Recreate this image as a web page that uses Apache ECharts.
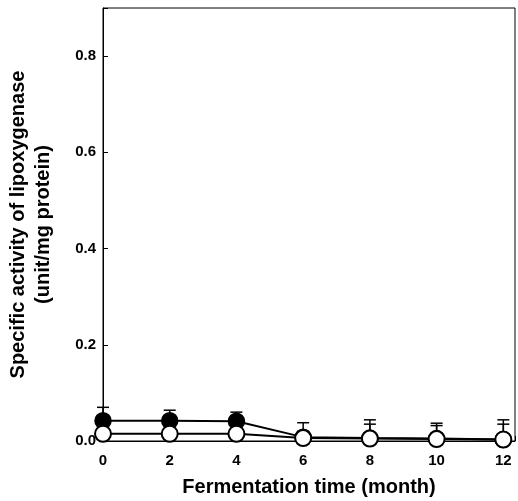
<!DOCTYPE html>
<html><head><meta charset="utf-8">
<script src="https://cdn.jsdelivr.net/npm/echarts@6/dist/echarts.min.js"></script>
<style>html,body{margin:0;padding:0;background:#fff}#c{width:518px;height:501px}</style>
</head><body><div id="c"></div>
<script>
const months = [0, 2, 4, 6, 8, 10, 12];
const filledVals = [0.042, 0.042, 0.041, 0.008, 0.006, 0.005, 0.003];
const filledErrTop = [0.070, 0.064, 0.060, 0.038, 0.035, 0.032, 0.035];
const openVals = [0.015, 0.015, 0.015, 0.006, 0.005, 0.004, 0.003];
const openErrTop = [0.020, 0.020, 0.020, 0.020, 0.044, 0.037, 0.044];
const yTicks = [0, 0.2, 0.4, 0.6, 0.8];

const font = 'Liberation Sans, Arial, sans-serif';
function errData(vals, tops){ return months.map((m,i)=>[m, vals[i], tops[i]]); }
function errRender(params, api){
  const x = api.value(0), y0 = api.value(1), y1 = api.value(2);
  const p0 = api.coord([x, y0]), p1 = api.coord([x, y1]);
  const hw = 6;
  return {type:'group', children:[
    {type:'line', shape:{x1:p0[0], y1:p0[1], x2:p1[0], y2:p1[1]}, style:{stroke:'#000', lineWidth:1.5}},
    {type:'line', shape:{x1:p1[0]-hw, y1:p1[1], x2:p1[0]+hw, y2:p1[1]}, style:{stroke:'#000', lineWidth:1.5}}
  ]};
}
const chart = echarts.init(document.getElementById('c'), null, {renderer:'canvas'});
chart.setOption({
  animation:false,
  grid:{left:103, right:3, top:8, bottom:60, containLabel:false, outerBoundsMode:'none',
    show:true, borderColor:'#000', borderWidth:1, backgroundColor:'transparent'},
  xAxis:{type:'value', min:0, max:12.35, interval:2,
    axisLine:{lineStyle:{color:'#000', width:1}}, axisTick:{inside:true, length:5, lineStyle:{color:'#000'}},
    axisLabel:{color:'#000', fontFamily:font, fontWeight:'bold', fontSize:15, margin:12,
      formatter:v=>months.includes(v)?String(v):''},
    splitLine:{show:false},
    name:'Fermentation time (month)', nameLocation:'middle', nameGap:36,
    nameTextStyle:{color:'#000', fontFamily:font, fontWeight:'bold', fontSize:20}},
  yAxis:{type:'value', min:0, max:0.9, interval:0.2,
    axisLine:{lineStyle:{color:'#000', width:1}}, axisTick:{inside:true, length:5, lineStyle:{color:'#000'}},
    axisLabel:{color:'#000', fontFamily:font, fontWeight:'bold', fontSize:15, margin:7,
      formatter:v=>yTicks.some(t=>Math.abs(t-v)<1e-9)?v.toFixed(1):''},
    splitLine:{show:false},
    name:'Specific activity of lipoxygenase\n(unit/mg protein)', nameLocation:'middle', nameGap:47,
    nameTextStyle:{color:'#000', fontFamily:font, fontWeight:'bold', fontSize:20, lineHeight:25}},
  series:[
    {type:'custom', renderItem:errRender, data:errData(filledVals, filledErrTop), encode:{x:0,y:[1,2]}, z:1},
    {type:'custom', renderItem:errRender, data:errData(openVals, openErrTop), encode:{x:0,y:[1,2]}, z:1},
    {type:'line', data:months.map((m,i)=>[m, filledVals[i]]), symbol:'circle', symbolSize:16,
      lineStyle:{color:'#000', width:2}, itemStyle:{color:'#000', borderColor:'#000', borderWidth:1.5}, z:3},
    {type:'line', data:months.map((m,i)=>[m, openVals[i]]), symbol:'circle', symbolSize:16,
      lineStyle:{color:'#000', width:2}, itemStyle:{color:'#fff', borderColor:'#000', borderWidth:2}, z:4}
  ]
});
</script></body></html>
